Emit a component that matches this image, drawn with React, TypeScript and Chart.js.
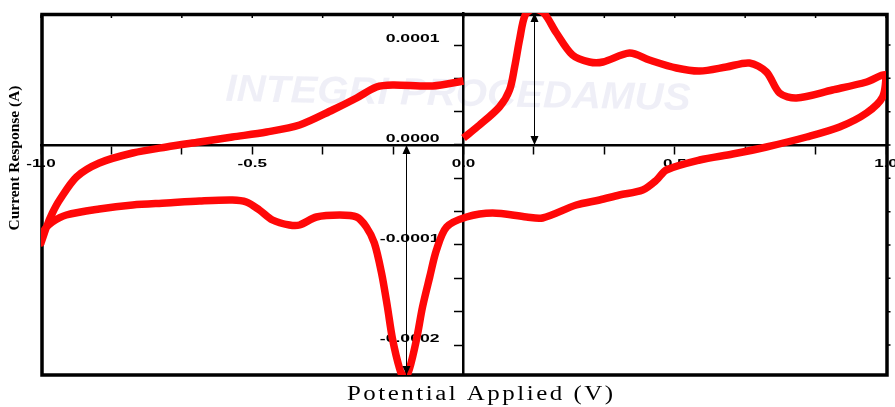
import React, { useEffect, useRef } from 'react';
import { Chart, registerables } from 'chart.js';

Chart.register(...registerables);

// ---- Data (cyclic voltammogram: forward scan, reverse scan, return) ----
const potentialV: number[] = [
  // forward 0 -> +1.0 V
  0.000, 0.038, 0.085, 0.109, 0.121, 0.133, 0.146, 0.165, 0.190, 0.220, 0.258, 0.298, 0.330, 0.393, 0.440, 0.504,
  0.559, 0.622, 0.677, 0.717, 0.748, 0.788, 0.873, 0.954, 1.000,
  // reverse +1.0 -> -1.0 V
  0.992, 0.954, 0.890, 0.812, 0.717, 0.637, 0.559, 0.480, 0.457, 0.424, 0.369, 0.322, 0.267, 0.187, 0.149, 0.069,
  0.007, -0.040, -0.064, -0.080, -0.097, -0.111, -0.128, -0.140, -0.151, -0.168, -0.180, -0.194, -0.211, -0.230,
  -0.253, -0.293, -0.348, -0.388, -0.412, -0.452, -0.483, -0.514, -0.547, -0.625, -0.703, -0.783, -0.862, -0.940,
  -0.973, -0.992, -1.000,
  // return -1.0 -> 0 V
  -0.987, -0.973, -0.956, -0.916, -0.862, -0.783, -0.703, -0.625, -0.547, -0.466, -0.388, -0.310, -0.253, -0.206,
  -0.168, -0.073, 0.000,
];

const currentA: number[] = [
  0.07e-4, 0.20e-4, 0.38e-4, 0.55e-4, 0.78e-4, 1.06e-4, 1.30e-4, 1.36e-4, 1.32e-4, 1.12e-4, 0.90e-4, 0.83e-4, 0.83e-4,
  0.92e-4, 0.85e-4, 0.77e-4, 0.74e-4, 0.78e-4, 0.82e-4, 0.73e-4, 0.52e-4, 0.47e-4, 0.55e-4, 0.63e-4, 0.70e-4,
  0.48e-4, 0.32e-4, 0.18e-4, 0.08e-4, -0.02e-4, -0.09e-4, -0.15e-4, -0.25e-4, -0.35e-4, -0.45e-4, -0.50e-4, -0.55e-4,
  -0.60e-4, -0.73e-4, -0.72e-4, -0.68e-4, -0.72e-4, -0.82e-4, -1.05e-4, -1.32e-4, -1.62e-4, -1.94e-4, -2.24e-4,
  -2.34e-4, -2.24e-4, -1.94e-4, -1.62e-4, -1.28e-4, -0.98e-4, -0.82e-4, -0.72e-4, -0.70e-4, -0.72e-4, -0.80e-4,
  -0.80e-4, -0.75e-4, -0.65e-4, -0.57e-4, -0.55e-4, -0.56e-4, -0.58e-4, -0.60e-4, -0.64e-4, -0.70e-4, -0.77e-4,
  -0.85e-4, -0.98e-4,
  -0.82e-4, -0.68e-4, -0.55e-4, -0.32e-4, -0.18e-4, -0.08e-4, -0.02e-4, 0.03e-4, 0.08e-4, 0.13e-4, 0.20e-4, 0.35e-4,
  0.47e-4, 0.58e-4, 0.60e-4, 0.59e-4, 0.64e-4,
];

// ---- Axes ----
const xMin = -1.0;
const xMax = 1.0;
const yMin = -2.30e-4;
const yMax = 1.32e-4;
const xMajorTicks: number[] = [-1.0, -0.5, 0.0, 0.5, 1.0];
const xTickLabels: string[] = ['-1.0', '-0.5', '0.0', '0.5', '1.0'];
const yMajorTicks: number[] = [-0.0002, -0.0001, 0.0, 0.0001];
const yTickLabels: string[] = ['-0.0002', '-0.0001', '0.0000', '0.0001'];
const minorDivisions = 3;

// ---- Peak markers (double arrows) ----
const arrowPotential: number[] = [0.167, -0.135];
const arrowFrom: number[] = [0, 0];
const arrowTo: number[] = [1.32e-4, -2.30e-4];

const xTitle = 'Potential Applied (V)';
const yTitle = 'Current Response (A)';
const watermarkText = 'INTEGRI PROCEDAMUS';

function withMinor(majors: number[]): number[] {
  const out: number[] = [];
  for (let i = 0; i < majors.length - 1; i++) {
    const a = majors[i];
    const b = majors[i + 1];
    for (let k = 0; k < minorDivisions; k++) out.push(a + ((b - a) * k) / minorDivisions);
  }
  out.push(majors[majors.length - 1]);
  return out;
}

const xAllTicks = withMinor(xMajorTicks);
const yAllTicks = withMinor(yMajorTicks);

function stretchedText(
  ctx: CanvasRenderingContext2D,
  text: string,
  cx: number,
  cy: number,
  width: number,
  font: string,
  spacing: number,
  rotate: number,
) {
  ctx.save();
  ctx.font = font;
  (ctx as any).letterSpacing = spacing + 'px';
  const w = ctx.measureText(text).width - spacing;
  ctx.translate(cx, cy);
  ctx.rotate(rotate);
  ctx.scale(width / w, 1);
  ctx.textAlign = 'left';
  ctx.textBaseline = 'middle';
  ctx.fillText(text, -w / 2, 0);
  ctx.restore();
}

function scaledLabel(
  ctx: CanvasRenderingContext2D,
  text: string,
  x: number,
  y: number,
  align: CanvasTextAlign,
  sx: number,
) {
  ctx.save();
  ctx.translate(x, y);
  ctx.scale(sx, 1);
  ctx.textAlign = align;
  ctx.textBaseline = 'middle';
  ctx.fillText(text, 0, 0);
  ctx.restore();
}

const decorPlugin = {
  id: 'decor',
  beforeDraw(chart: any) {
    const { ctx } = chart;
    ctx.save();
    ctx.fillStyle = '#ffffff';
    ctx.fillRect(0, 0, chart.width, chart.height);
    ctx.fillStyle = 'rgba(220, 220, 238, 0.45)';
    stretchedText(ctx, watermarkText, 458, 95, 465, 'italic bold 38px "Liberation Sans", Arial, sans-serif', 0, 0.02);
    ctx.restore();
  },
  beforeDatasetsDraw(chart: any) {
    const { ctx, chartArea: a } = chart;
    const xs = chart.scales.x;
    const ys = chart.scales.y;
    ctx.save();
    // frame
    ctx.strokeStyle = '#000';
    ctx.lineWidth = 3.5;
    ctx.strokeRect(a.left + 1, a.top + 1.5, a.right - a.left, a.bottom - a.top - 1.5);
    // frame ticks (top inward, right outward)
    ctx.lineWidth = 1.5;
    ctx.beginPath();
    xAllTicks.forEach((v) => {
      const px = xs.getPixelForValue(v);
      ctx.moveTo(px, a.top + 1.5);
      ctx.lineTo(px, a.top + 5);
    });
    yAllTicks.forEach((v) => {
      const py = ys.getPixelForValue(v);
      ctx.moveTo(a.right + 1, py);
      ctx.lineTo(a.right + 4.5, py);
    });
    ctx.stroke();

    // tick labels (wide, bold)
    const x0 = xs.getPixelForValue(0);
    const y0 = ys.getPixelForValue(0);
    ctx.fillStyle = '#000';
    ctx.font = 'bold 11px "Liberation Sans", Arial, sans-serif';
    xMajorTicks.forEach((v, i) => {
      scaledLabel(ctx, xTickLabels[i], xs.getPixelForValue(v), y0 + 19, 'center', 1.55);
    });
    yMajorTicks.forEach((v, i) => {
      scaledLabel(ctx, yTickLabels[i], x0 - 24, ys.getPixelForValue(v) - 6.5, 'right', 1.6);
    });

    // axis titles
    ctx.fillStyle = '#000';
    stretchedText(ctx, xTitle, 480, 395, 266, '20px "Liberation Serif", "Times New Roman", serif', 2, 0);
    stretchedText(ctx, yTitle, 15, 158, 145, 'bold 15px "Liberation Serif", "Times New Roman", serif', 0, -Math.PI / 2);
    ctx.restore();
  },
  afterDatasetsDraw(chart: any) {
    const { ctx } = chart;
    const xs = chart.scales.x;
    const ys = chart.scales.y;
    ctx.save();
    ctx.strokeStyle = '#000';
    ctx.fillStyle = '#000';
    ctx.lineWidth = 1;
    const head = (px: number, py: number, dir: number) => {
      ctx.beginPath();
      ctx.moveTo(px, py);
      ctx.lineTo(px - 4, py - dir * 9);
      ctx.lineTo(px + 4, py - dir * 9);
      ctx.closePath();
      ctx.fill();
    };
    arrowPotential.forEach((xv, i) => {
      const px = Math.round(xs.getPixelForValue(xv)) + 0.5;
      const p1 = ys.getPixelForValue(arrowFrom[i]);
      const p2 = ys.getPixelForValue(arrowTo[i]);
      ctx.beginPath();
      ctx.moveTo(px, p1);
      ctx.lineTo(px, p2);
      ctx.stroke();
      head(px, p1, p1 > p2 ? 1 : -1);
      head(px, p2, p2 > p1 ? 1 : -1);
    });
    ctx.restore();
  },
};

const zeroPad = (s: any) => {
  s.paddingLeft = 0;
  s.paddingRight = 0;
  s.paddingTop = 0;
  s.paddingBottom = 0;
};

export default function App() {
  const ref = useRef<HTMLCanvasElement | null>(null);

  useEffect(() => {
    document.body.style.margin = '0';
    const canvas = ref.current;
    if (!canvas) return;
    const points = potentialV.map((x, i) => ({ x, y: currentA[i] }));
    const chart = new Chart(canvas, {
      type: 'line',
      data: {
        datasets: [
          {
            data: points,
            borderColor: 'rgb(255, 8, 8)',
            borderWidth: 7.5,
            pointRadius: 0,
            tension: 0.3,
            fill: false,
            borderJoinStyle: 'round',
          } as any,
        ],
      },
      options: {
        animation: false,
        responsive: false,
        devicePixelRatio: 1,
        events: [],
        layout: { padding: { left: 41, right: 9, top: 13, bottom: 32 } },
        plugins: {
          legend: { display: false },
          tooltip: { enabled: false },
          title: { display: false },
        },
        scales: {
          x: {
            type: 'linear',
            min: xMin,
            max: xMax,
            position: { y: 0 } as any,
            afterBuildTicks: (s: any) => {
              s.ticks = xAllTicks.map((v) => ({ value: v }));
            },
            afterFit: zeroPad,
            ticks: { display: false },
            grid: {
              display: true,
              drawOnChartArea: false,
              drawTicks: true,
              tickLength: 8,
              tickColor: '#000',
              tickWidth: 1.5,
              color: '#000',
            },
            border: { display: true, color: '#000', width: 2.5 },
          },
          y: {
            type: 'linear',
            min: yMin,
            max: yMax,
            position: { x: 0 } as any,
            afterBuildTicks: (s: any) => {
              s.ticks = yAllTicks.map((v) => ({ value: v }));
            },
            afterFit: zeroPad,
            ticks: { display: false },
            grid: {
              display: true,
              drawOnChartArea: false,
              drawTicks: true,
              tickLength: 8,
              tickColor: '#000',
              tickWidth: 1.5,
              color: '#000',
            },
            border: { display: true, color: '#000', width: 2.5 },
          },
        },
      } as any,
      plugins: [decorPlugin],
    });
    return () => chart.destroy();
  }, []);

  return (
    <div style={{ width: 895, height: 407, background: '#fff' }}>
      <canvas ref={ref} width={895} height={407} style={{ display: 'block' }} />
    </div>
  );
}
